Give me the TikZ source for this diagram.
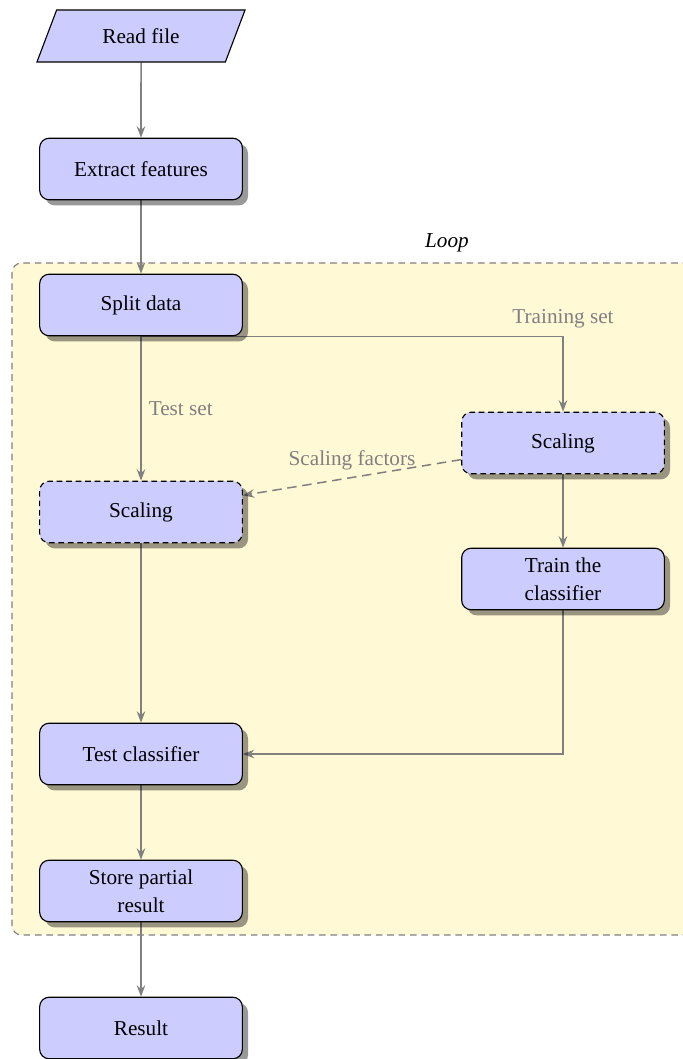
\documentclass[tikz,border=0pt]{standalone}
\usepackage{fontspec}
\setmainfont{Liberation Serif}
\usetikzlibrary{shapes.geometric,shadows,arrows.meta}
\definecolor{loopbg}{RGB}{255,249,214}
\definecolor{nodebg}{RGB}{204,204,255}
\pgfdeclarelayer{bg}
\pgfdeclarelayer{edges}
\pgfsetlayers{bg,edges,main}
\begin{document}
\fontsize{11.2}{15}\selectfont
\begin{tikzpicture}[x=0.528pt,y=-0.528pt,
  box/.style={draw=black, line width=0.6pt, fill=nodebg, rounded corners=5pt,
    minimum width=107pt, minimum height=32.5pt, align=center,
    drop shadow={shadow xshift=3pt, shadow yshift=-3pt, opacity=0.4, fill=black}},
  dbox/.style={box, dashed, dash pattern=on 3pt off 2pt},
  conn/.style={draw=gray, line width=0.8pt, -{Stealth[length=6pt,width=4.5pt,inset=2pt]}},
  dconn/.style={conn, dashed, dash pattern=on 5pt off 3pt},
  lab/.style={text=gray},
  iobox/.style={draw=black, line width=0.6pt, fill=nodebg, trapezium, trapezium stretches=true,
    trapezium left angle=70, trapezium right angle=110, minimum width=110pt, minimum height=27.5pt}]
\useasboundingbox (0,0) rectangle (682,1059);
% nodes
\node[iobox] (read) at (141,36) {Read file};
\node[box] (extract) at (141,169) {Extract features};
\node[box] (split) at (141,305) {Split data};
\node[dbox] (scaleL) at (141,512) {Scaling};
\node[dbox] (scaleR) at (563,443) {Scaling};
\node[box] (train) at (563,579) {Train the\\classifier};
\node[box] (test) at (141,754) {Test classifier};
\node[box] (store) at (141,891) {Store partial\\result};
\node[box] (result) at (141,1028) {Result};
% loop frame
\begin{pgfonlayer}{bg}
\node[draw=gray, line width=0.6pt, dash pattern=on 3.5pt off 2.5pt, fill=loopbg, rounded corners=5pt,
  minimum width=368.5pt, minimum height=354.8pt] (loop) at (361,599) {};
\end{pgfonlayer}
\node[font=\itshape] (looplabel) at (447,243) {Loop};
% connectors
\begin{pgfonlayer}{edges}
\draw[conn] (read) -- (extract);
\draw[conn] (extract) -- (split);
\draw[conn] (split) -- node[lab, right] {Test set} (scaleL);
\draw[conn] (split.south) -| node[lab, above] {Training set} (scaleR.north);
\draw[dconn] (scaleR) -- node[lab, above] {Scaling factors} (scaleL);
\draw[conn] (scaleR) -- (train);
\draw[conn] (train.south) |- (test.east);
\draw[conn] (scaleL) -- (test);
\draw[conn] (test) -- (store);
\draw[conn] (store) -- (result);
\end{pgfonlayer}
\end{tikzpicture}
\end{document}
